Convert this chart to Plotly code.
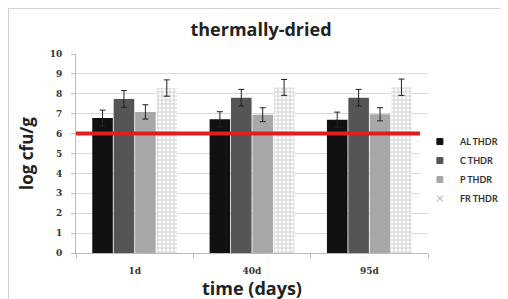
import plotly.graph_objects as go

categories = ["1d", "40d", "95d"]
series_names = ["AL THDR", "C THDR", "P THDR", "FR THDR"]
al_vals = [6.78, 6.72, 6.70]
c_vals = [7.74, 7.80, 7.80]
p_vals = [7.09, 6.95, 6.97]
fr_vals = [8.29, 8.32, 8.33]
al_err = [0.40, 0.38, 0.38]
c_err = [0.42, 0.42, 0.42]
p_err = [0.36, 0.35, 0.33]
fr_err = [0.41, 0.40, 0.41]
threshold = 6
y_ticks = [0, 1, 2, 3, 4, 5, 6, 7, 8, 9, 10]

L, R, T, B = 68, 88, 46, 54
W, H = 508, 299
PW, PH = W - L - R, H - T - B

fig = go.Figure()
styles = [
    dict(color="#111111"),
    dict(color="#555555"),
    dict(color="#a8a8a8"),
    dict(color="white", pattern=dict(shape="+", size=4, solidity=0.45, fgcolor="#a0a0a0", bgcolor="white")),
]
leg_symbols = ["square", "square", "square", "x-thin"]
leg_colors = ["#111111", "#555555", "#a8a8a8", "#999999"]
vals = [al_vals, c_vals, p_vals, fr_vals]
errs = [al_err, c_err, p_err, fr_err]
for name, v, e, st in zip(series_names, vals, errs, styles):
    fig.add_trace(go.Bar(
        x=categories, y=v, name=name, showlegend=False,
        marker=dict(line=dict(width=0), **st),
        error_y=dict(type="data", array=e, visible=True, color="#222222", thickness=1, width=3),
    ))
for name, sym, col in zip(series_names, leg_symbols, leg_colors):
    fig.add_trace(go.Scatter(
        x=[None], y=[None], mode="markers", name=name,
        marker=dict(symbol=sym, size=6, color=col, line=dict(color=col, width=1)),
    ))

fig.add_shape(type="line", xref="paper", yref="y", x0=0, x1=1, y0=threshold, y1=threshold,
              line=dict(color="#e01e1e", width=4), layer="above")
# outer chart border
fig.add_shape(type="rect", xref="paper", yref="paper",
              x0=-(L - 0.5) / PW, x1=1 + (R - 0.5) / PW, y0=-(B - 0.5) / PH, y1=1 + (T - 0.5) / PH,
              line=dict(color="#d0d0d0", width=1), fillcolor="rgba(0,0,0,0)", layer="below")

fig.update_layout(
    width=W, height=H,
    margin=dict(l=L, r=R, t=T, b=B, autoexpand=False),
    paper_bgcolor="white", plot_bgcolor="white",
    barmode="group", bargap=0.27, bargroupgap=0.04,
    title=dict(text="<b>thermally-dried</b>", x=(L + PW / 2 + 9) / W, xanchor="center",
               y=1 - 22 / H, yanchor="middle",
               font=dict(family="Open Sans, Lato, sans-serif", size=18, color="#222222")),
    showlegend=True,
    legend=dict(x=0.977, y=0.633, xanchor="left", yanchor="top", tracegroupgap=0,
                font=dict(family="Lato, Open Sans, sans-serif", size=9, color="#333333", weight="bold"),
                itemwidth=30, traceorder="normal", itemsizing="trace"),
    xaxis=dict(
        automargin=False,
        showline=True, linecolor="#bbbbbb", linewidth=1,
        ticks="outside", tickson="boundaries", ticklen=4, tickcolor="#bbbbbb",
        ticklabelstandoff=9,
        tickfont=dict(family="DejaVu Serif, serif", size=9, color="#333333", weight="bold"),
        title=dict(text="<b>time (days)</b>", standoff=6,
                   font=dict(family="Open Sans, Lato, sans-serif", size=18, color="#222222")),
    ),
    yaxis=dict(
        automargin=False,
        range=[0, 10], tickvals=y_ticks,
        showgrid=True, gridcolor="#d9d9d9", gridwidth=1,
        showline=True, linecolor="#bbbbbb", linewidth=1,
        ticks="outside", ticklen=4, tickcolor="#bbbbbb", zeroline=False,
        ticklabelstandoff=7,
        tickfont=dict(family="DejaVu Serif, serif", size=9, color="#333333", weight="bold"),
        title=dict(text="<b>log cfu/g</b>", standoff=11,
                   font=dict(family="Open Sans, Lato, sans-serif", size=17, color="#222222")),
    ),
)

fig.write_html("out.html")
